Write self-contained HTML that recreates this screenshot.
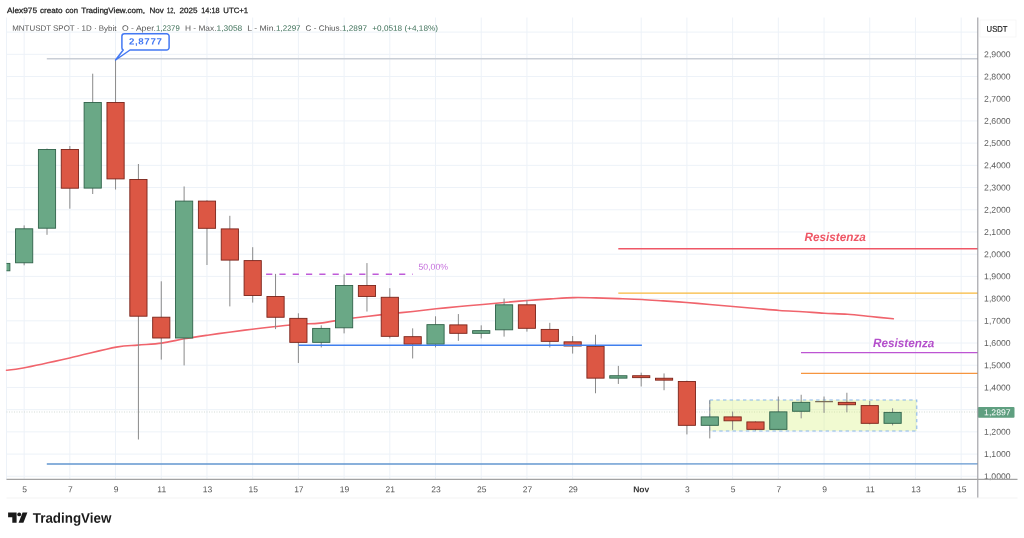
<!DOCTYPE html>
<html lang="it"><head><meta charset="utf-8"><title>MNTUSDT SPOT</title>
<style>html,body{margin:0;padding:0;background:#fff}body{width:1024px;height:538px;overflow:hidden}svg{display:block}</style></head>
<body>
<svg width="1024" height="538" viewBox="0 0 1024 538" font-family="'Liberation Sans', Arial, sans-serif">
<rect width="1024" height="538" fill="#fff"/>
<defs><clipPath id="cp"><rect x="6.5" y="17.5" width="971.5" height="462.1"/></clipPath></defs>
<g stroke="#edf2f8" stroke-width="1">
<line x1="6.5" y1="17.5" x2="6.5" y2="479.6"/>
<line x1="24.15" y1="17.5" x2="24.15" y2="479.6"/>
<line x1="69.85" y1="17.5" x2="69.85" y2="479.6"/>
<line x1="115.56" y1="17.5" x2="115.56" y2="479.6"/>
<line x1="161.27" y1="17.5" x2="161.27" y2="479.6"/>
<line x1="206.98" y1="17.5" x2="206.98" y2="479.6"/>
<line x1="252.69" y1="17.5" x2="252.69" y2="479.6"/>
<line x1="298.39" y1="17.5" x2="298.39" y2="479.6"/>
<line x1="344.10" y1="17.5" x2="344.10" y2="479.6"/>
<line x1="389.81" y1="17.5" x2="389.81" y2="479.6"/>
<line x1="435.52" y1="17.5" x2="435.52" y2="479.6"/>
<line x1="481.23" y1="17.5" x2="481.23" y2="479.6"/>
<line x1="526.93" y1="17.5" x2="526.93" y2="479.6"/>
<line x1="572.64" y1="17.5" x2="572.64" y2="479.6"/>
<line x1="641.20" y1="17.5" x2="641.20" y2="479.6"/>
<line x1="686.91" y1="17.5" x2="686.91" y2="479.6"/>
<line x1="732.62" y1="17.5" x2="732.62" y2="479.6"/>
<line x1="778.33" y1="17.5" x2="778.33" y2="479.6"/>
<line x1="824.04" y1="17.5" x2="824.04" y2="479.6"/>
<line x1="869.74" y1="17.5" x2="869.74" y2="479.6"/>
<line x1="915.45" y1="17.5" x2="915.45" y2="479.6"/>
<line x1="961.16" y1="17.5" x2="961.16" y2="479.6"/>
<line x1="6.5" y1="32.09" x2="978" y2="32.09"/>
<line x1="6.5" y1="54.30" x2="978" y2="54.30"/>
<line x1="6.5" y1="76.51" x2="978" y2="76.51"/>
<line x1="6.5" y1="98.72" x2="978" y2="98.72"/>
<line x1="6.5" y1="120.93" x2="978" y2="120.93"/>
<line x1="6.5" y1="143.14" x2="978" y2="143.14"/>
<line x1="6.5" y1="165.35" x2="978" y2="165.35"/>
<line x1="6.5" y1="187.56" x2="978" y2="187.56"/>
<line x1="6.5" y1="209.77" x2="978" y2="209.77"/>
<line x1="6.5" y1="231.98" x2="978" y2="231.98"/>
<line x1="6.5" y1="254.19" x2="978" y2="254.19"/>
<line x1="6.5" y1="276.40" x2="978" y2="276.40"/>
<line x1="6.5" y1="298.61" x2="978" y2="298.61"/>
<line x1="6.5" y1="320.82" x2="978" y2="320.82"/>
<line x1="6.5" y1="343.03" x2="978" y2="343.03"/>
<line x1="6.5" y1="365.24" x2="978" y2="365.24"/>
<line x1="6.5" y1="387.45" x2="978" y2="387.45"/>
<line x1="6.5" y1="409.66" x2="978" y2="409.66"/>
<line x1="6.5" y1="431.87" x2="978" y2="431.87"/>
<line x1="6.5" y1="454.08" x2="978" y2="454.08"/>
<line x1="6.5" y1="476.29" x2="978" y2="476.29"/>
</g>
<line x1="6.5" y1="412" x2="978" y2="412" stroke="#d3dbd6" stroke-width="1" stroke-dasharray="1 1.5"/>
<line x1="46.8" y1="58.8" x2="978" y2="58.8" stroke="#c9ced6" stroke-width="1.5"/>
<rect x="709.7" y="399.9" width="207.1" height="31" fill="#d7f17c" fill-opacity="0.35" stroke="#88b6ec" stroke-width="1.05" stroke-dasharray="3.4 3.25"/>
<path fill="none" stroke="#f0646c" stroke-width="1.6" stroke-linecap="round" d="M6.5,370.2 C9.28,369.83 12.67,370.03 23.2,368 C33.73,365.97 54.20,361.48 69.7,358 C85.20,354.52 104.85,349.25 116.2,347.1 C127.55,344.95 130.22,345.77 137.8,345.1 C145.38,344.43 153.95,344.15 161.7,343.1 C169.45,342.05 176.67,340.12 184.3,338.8 C191.93,337.48 200.03,336.30 207.5,335.2 C214.97,334.10 221.63,333.20 229.1,332.2 C236.57,331.20 244.55,330.15 252.3,329.2 C260.05,328.25 267.85,327.33 275.6,326.5 C283.35,325.67 291.40,324.77 298.8,324.2 C306.20,323.63 312.32,323.95 320,323.1 C327.68,322.25 337.15,320.20 344.9,319.1 C352.65,318.00 359.03,317.38 366.5,316.5 C373.97,315.62 381.95,314.63 389.7,313.8 C397.45,312.97 405.25,312.33 413,311.5 C420.75,310.67 428.47,309.63 436.2,308.8 C443.93,307.97 451.65,307.22 459.4,306.5 C467.15,305.78 475.22,305.17 482.7,304.5 C490.18,303.83 496.83,303.17 504.3,302.5 C511.77,301.83 519.77,301.10 527.5,300.5 C535.23,299.90 542.95,299.38 550.7,298.9 C558.45,298.42 566.52,297.77 574,297.6 C581.48,297.43 588.13,297.73 595.6,297.9 C603.07,298.07 611.07,298.33 618.8,298.6 C626.53,298.87 634.60,299.12 642,299.5 C649.40,299.88 655.78,300.40 663.2,300.9 C670.62,301.40 678.75,301.90 686.5,302.5 C694.25,303.10 701.95,303.83 709.7,304.5 C717.45,305.17 725.25,305.83 733,306.5 C740.75,307.17 748.47,307.83 756.2,308.5 C763.93,309.17 771.65,309.95 779.4,310.5 C787.15,311.05 795.22,311.35 802.7,311.8 C810.18,312.25 816.83,312.80 824.3,313.2 C831.77,313.60 839.77,313.65 847.5,314.2 C855.23,314.75 863.07,315.73 870.7,316.5 C878.33,317.27 889.53,318.42 893.3,318.8"/>
<g clip-path="url(#cp)">
<line x1="1.29" y1="263.1" x2="1.29" y2="271.1" stroke="#8a8a8a" stroke-width="1"/>
<rect x="-7.31" y="263.40" width="17.2" height="7.40" fill="#6aa886" stroke="#2f6249" stroke-width="0.9"/>
<line x1="24.15" y1="225.4" x2="24.15" y2="265.3" stroke="#8a8a8a" stroke-width="1"/>
<rect x="15.55" y="228.80" width="17.2" height="34.00" fill="#6aa886" stroke="#2f6249" stroke-width="0.9"/>
<line x1="47.00" y1="148.6" x2="47.00" y2="234.8" stroke="#8a8a8a" stroke-width="1"/>
<rect x="38.40" y="149.50" width="17.2" height="78.70" fill="#6aa886" stroke="#2f6249" stroke-width="0.9"/>
<line x1="69.85" y1="146" x2="69.85" y2="208.7" stroke="#8a8a8a" stroke-width="1"/>
<rect x="61.25" y="149.50" width="17.2" height="38.70" fill="#dc5744" stroke="#7a241a" stroke-width="0.9"/>
<line x1="92.71" y1="73.7" x2="92.71" y2="194" stroke="#8a8a8a" stroke-width="1"/>
<rect x="84.11" y="102.50" width="17.2" height="85.60" fill="#6aa886" stroke="#2f6249" stroke-width="0.9"/>
<line x1="115.56" y1="59.8" x2="115.56" y2="189.5" stroke="#8a8a8a" stroke-width="1"/>
<rect x="106.96" y="102.50" width="17.2" height="76.40" fill="#dc5744" stroke="#7a241a" stroke-width="0.9"/>
<line x1="138.42" y1="164" x2="138.42" y2="439.5" stroke="#8a8a8a" stroke-width="1"/>
<rect x="129.82" y="179.50" width="17.2" height="136.70" fill="#dc5744" stroke="#7a241a" stroke-width="0.9"/>
<line x1="161.27" y1="281.3" x2="161.27" y2="359.6" stroke="#8a8a8a" stroke-width="1"/>
<rect x="152.67" y="317.20" width="17.2" height="20.80" fill="#dc5744" stroke="#7a241a" stroke-width="0.9"/>
<line x1="184.12" y1="186.45" x2="184.12" y2="365.4" stroke="#8a8a8a" stroke-width="1"/>
<rect x="175.52" y="201.10" width="17.2" height="136.90" fill="#6aa886" stroke="#2f6249" stroke-width="0.9"/>
<line x1="206.98" y1="200.3" x2="206.98" y2="265" stroke="#8a8a8a" stroke-width="1"/>
<rect x="198.38" y="201.10" width="17.2" height="27.20" fill="#dc5744" stroke="#7a241a" stroke-width="0.9"/>
<line x1="229.83" y1="215.8" x2="229.83" y2="306.4" stroke="#8a8a8a" stroke-width="1"/>
<rect x="221.23" y="228.90" width="17.2" height="31.20" fill="#dc5744" stroke="#7a241a" stroke-width="0.9"/>
<line x1="252.69" y1="247.2" x2="252.69" y2="302.6" stroke="#8a8a8a" stroke-width="1"/>
<rect x="244.09" y="260.60" width="17.2" height="34.90" fill="#dc5744" stroke="#7a241a" stroke-width="0.9"/>
<line x1="275.54" y1="273.88" x2="275.54" y2="329.11" stroke="#8a8a8a" stroke-width="1"/>
<rect x="266.94" y="296.52" width="17.2" height="20.74" fill="#dc5744" stroke="#7a241a" stroke-width="0.9"/>
<line x1="298.39" y1="313.29" x2="298.39" y2="362.99" stroke="#8a8a8a" stroke-width="1"/>
<rect x="289.79" y="318.36" width="17.2" height="24.00" fill="#dc5744" stroke="#7a241a" stroke-width="0.9"/>
<line x1="321.25" y1="325.34" x2="321.25" y2="347.43" stroke="#8a8a8a" stroke-width="1"/>
<rect x="312.65" y="328.40" width="17.2" height="13.96" fill="#6aa886" stroke="#2f6249" stroke-width="0.9"/>
<line x1="344.10" y1="274.39" x2="344.10" y2="333.37" stroke="#8a8a8a" stroke-width="1"/>
<rect x="335.50" y="285.48" width="17.2" height="42.32" fill="#6aa886" stroke="#2f6249" stroke-width="0.9"/>
<line x1="366.96" y1="263.09" x2="366.96" y2="311.54" stroke="#8a8a8a" stroke-width="1"/>
<rect x="358.36" y="285.48" width="17.2" height="10.95" fill="#dc5744" stroke="#7a241a" stroke-width="0.9"/>
<line x1="389.81" y1="288.19" x2="389.81" y2="338.39" stroke="#8a8a8a" stroke-width="1"/>
<rect x="381.21" y="297.28" width="17.2" height="39.05" fill="#dc5744" stroke="#7a241a" stroke-width="0.9"/>
<line x1="412.66" y1="328.35" x2="412.66" y2="358.47" stroke="#8a8a8a" stroke-width="1"/>
<rect x="404.06" y="336.68" width="17.2" height="7.44" fill="#dc5744" stroke="#7a241a" stroke-width="0.9"/>
<line x1="435.52" y1="316.3" x2="435.52" y2="347.43" stroke="#8a8a8a" stroke-width="1"/>
<rect x="426.92" y="324.64" width="17.2" height="19.48" fill="#6aa886" stroke="#2f6249" stroke-width="0.9"/>
<line x1="458.37" y1="314.05" x2="458.37" y2="340.9" stroke="#8a8a8a" stroke-width="1"/>
<rect x="449.77" y="324.89" width="17.2" height="8.43" fill="#dc5744" stroke="#7a241a" stroke-width="0.9"/>
<line x1="481.23" y1="325.34" x2="481.23" y2="338.39" stroke="#8a8a8a" stroke-width="1"/>
<rect x="472.63" y="330.66" width="17.2" height="2.66" fill="#6aa886" stroke="#2f6249" stroke-width="0.9"/>
<line x1="504.08" y1="298.48" x2="504.08" y2="336.63" stroke="#8a8a8a" stroke-width="1"/>
<rect x="495.48" y="304.81" width="17.2" height="25.00" fill="#6aa886" stroke="#2f6249" stroke-width="0.9"/>
<line x1="526.93" y1="300.24" x2="526.93" y2="331.62" stroke="#8a8a8a" stroke-width="1"/>
<rect x="518.33" y="304.81" width="17.2" height="23.49" fill="#dc5744" stroke="#7a241a" stroke-width="0.9"/>
<line x1="549.79" y1="322.83" x2="549.79" y2="347.43" stroke="#8a8a8a" stroke-width="1"/>
<rect x="541.19" y="329.41" width="17.2" height="11.94" fill="#dc5744" stroke="#7a241a" stroke-width="0.9"/>
<line x1="572.64" y1="336.02" x2="572.64" y2="353.59" stroke="#8a8a8a" stroke-width="1"/>
<rect x="564.04" y="341.85" width="17.2" height="4.16" fill="#dc5744" stroke="#7a241a" stroke-width="0.9"/>
<line x1="595.50" y1="334.77" x2="595.50" y2="393.25" stroke="#8a8a8a" stroke-width="1"/>
<rect x="586.90" y="346.36" width="17.2" height="31.78" fill="#dc5744" stroke="#7a241a" stroke-width="0.9"/>
<line x1="618.35" y1="365.89" x2="618.35" y2="383.96" stroke="#8a8a8a" stroke-width="1"/>
<rect x="609.75" y="375.73" width="17.2" height="2.41" fill="#6aa886" stroke="#2f6249" stroke-width="0.9"/>
<line x1="641.20" y1="372.67" x2="641.20" y2="386.48" stroke="#8a8a8a" stroke-width="1"/>
<rect x="632.60" y="375.73" width="17.2" height="1.91" fill="#dc5744" stroke="#7a241a" stroke-width="0.9"/>
<line x1="664.06" y1="373.42" x2="664.06" y2="390.24" stroke="#8a8a8a" stroke-width="1"/>
<rect x="655.46" y="378.24" width="17.2" height="1.91" fill="#dc5744" stroke="#7a241a" stroke-width="0.9"/>
<line x1="686.91" y1="380.7" x2="686.91" y2="434.42" stroke="#8a8a8a" stroke-width="1"/>
<rect x="678.31" y="381.50" width="17.2" height="43.83" fill="#dc5744" stroke="#7a241a" stroke-width="0.9"/>
<line x1="709.77" y1="400.28" x2="709.77" y2="438.43" stroke="#8a8a8a" stroke-width="1"/>
<rect x="701.17" y="416.90" width="17.2" height="8.43" fill="#6aa886" stroke="#2f6249" stroke-width="0.9"/>
<line x1="732.62" y1="411.57" x2="732.62" y2="429.9" stroke="#8a8a8a" stroke-width="1"/>
<rect x="724.02" y="416.90" width="17.2" height="3.91" fill="#dc5744" stroke="#7a241a" stroke-width="0.9"/>
<line x1="755.47" y1="421.36" x2="755.47" y2="430.4" stroke="#8a8a8a" stroke-width="1"/>
<rect x="746.87" y="421.92" width="17.2" height="7.43" fill="#dc5744" stroke="#7a241a" stroke-width="0.9"/>
<line x1="778.33" y1="396.51" x2="778.33" y2="429.9" stroke="#8a8a8a" stroke-width="1"/>
<rect x="769.73" y="411.87" width="17.2" height="17.48" fill="#6aa886" stroke="#2f6249" stroke-width="0.9"/>
<line x1="801.18" y1="394.76" x2="801.18" y2="418.35" stroke="#8a8a8a" stroke-width="1"/>
<rect x="792.58" y="402.34" width="17.2" height="8.93" fill="#6aa886" stroke="#2f6249" stroke-width="0.9"/>
<line x1="824.04" y1="396.51" x2="824.04" y2="412.83" stroke="#8a8a8a" stroke-width="1"/>
<line x1="815.14" y1="401.65999999999997" x2="832.94" y2="401.65999999999997" stroke="#7b6e58" stroke-width="1.1"/>
<line x1="846.89" y1="392.75" x2="846.89" y2="412.33" stroke="#8a8a8a" stroke-width="1"/>
<rect x="838.29" y="402.34" width="17.2" height="2.41" fill="#dc5744" stroke="#7a241a" stroke-width="0.9"/>
<line x1="869.74" y1="401.03" x2="869.74" y2="424.38" stroke="#8a8a8a" stroke-width="1"/>
<rect x="861.14" y="405.60" width="17.2" height="17.72" fill="#dc5744" stroke="#7a241a" stroke-width="0.9"/>
<line x1="892.60" y1="408.31" x2="892.60" y2="425.38" stroke="#8a8a8a" stroke-width="1"/>
<rect x="884.00" y="412.38" width="17.2" height="10.94" fill="#6aa886" stroke="#2f6249" stroke-width="0.9"/>
</g>
<line x1="298.7" y1="345.2" x2="641.9" y2="345.2" stroke="#3f7fee" stroke-width="1.6"/>
<line x1="46.8" y1="464" x2="978" y2="463.9" stroke="#6296cf" stroke-width="1.35"/>
<line x1="618.3" y1="248.7" x2="978" y2="248.7" stroke="#ef5766" stroke-width="1.4"/>
<line x1="618.3" y1="293.15" x2="978" y2="293.15" stroke="#f8b93c" stroke-width="1.4"/>
<line x1="801" y1="352.6" x2="978" y2="352.6" stroke="#bd55d3" stroke-width="1.4"/>
<line x1="801" y1="373.4" x2="978" y2="373.4" stroke="#f6953f" stroke-width="1.2"/>
<line x1="266.1" y1="274.2" x2="413" y2="274.2" stroke="#bf5bd8" stroke-width="1.5" stroke-dasharray="6.2 7.1"/>
<text transform="rotate(0.05 418.5 269.7)" x="418.5" y="269.7" font-size="8.6" fill="#c56fdc" textLength="29.5" lengthAdjust="spacingAndGlyphs">50,00%</text>
<text transform="rotate(0.05 804.4 240.9)" x="804.4" y="240.9" font-size="12" font-weight="bold" font-style="italic" fill="#ef5766" textLength="61.5" lengthAdjust="spacingAndGlyphs">Resistenza</text>
<text transform="rotate(0.05 872.9 347.1)" x="872.9" y="347.1" font-size="12" font-weight="bold" font-style="italic" fill="#b44fcb" textLength="61.5" lengthAdjust="spacingAndGlyphs">Resistenza</text>
<path d="M124.6,33.8 H166.6 a2.5,2.5 0 0 1 2.5,2.5 V47.5 a2.5,2.5 0 0 1 -2.5,2.5 H130 L115.6,60 L123.2,50 a2.5,2.5 0 0 1 -1.3,-2.5 V36.3 a2.5,2.5 0 0 1 2.5,-2.5 Z" fill="#fff" stroke="#4378f3" stroke-width="1.5" stroke-linejoin="round"/>
<text transform="rotate(0.05 128.9 44.5)" x="128.9" y="44.5" font-size="9.1" font-weight="bold" fill="#4378f3" textLength="33.6" lengthAdjust="spacingAndGlyphs" letter-spacing="0.6">2,8777</text>
<g font-size="8.5" fill="#5c5c5c">
<text transform="rotate(0.05 984.1 57.25)" x="984.1" y="57.25" textLength="26.5" lengthAdjust="spacingAndGlyphs">2,9000</text>
<text transform="rotate(0.05 984.1 79.46)" x="984.1" y="79.46" textLength="26.5" lengthAdjust="spacingAndGlyphs">2,8000</text>
<text transform="rotate(0.05 984.1 101.67)" x="984.1" y="101.67" textLength="26.5" lengthAdjust="spacingAndGlyphs">2,7000</text>
<text transform="rotate(0.05 984.1 123.88)" x="984.1" y="123.88" textLength="26.5" lengthAdjust="spacingAndGlyphs">2,6000</text>
<text transform="rotate(0.05 984.1 146.09)" x="984.1" y="146.09" textLength="26.5" lengthAdjust="spacingAndGlyphs">2,5000</text>
<text transform="rotate(0.05 984.1 168.30)" x="984.1" y="168.30" textLength="26.5" lengthAdjust="spacingAndGlyphs">2,4000</text>
<text transform="rotate(0.05 984.1 190.51)" x="984.1" y="190.51" textLength="26.5" lengthAdjust="spacingAndGlyphs">2,3000</text>
<text transform="rotate(0.05 984.1 212.72)" x="984.1" y="212.72" textLength="26.5" lengthAdjust="spacingAndGlyphs">2,2000</text>
<text transform="rotate(0.05 984.1 234.93)" x="984.1" y="234.93" textLength="26.5" lengthAdjust="spacingAndGlyphs">2,1000</text>
<text transform="rotate(0.05 984.1 257.14)" x="984.1" y="257.14" textLength="26.5" lengthAdjust="spacingAndGlyphs">2,0000</text>
<text transform="rotate(0.05 984.1 279.35)" x="984.1" y="279.35" textLength="26.5" lengthAdjust="spacingAndGlyphs">1,9000</text>
<text transform="rotate(0.05 984.1 301.56)" x="984.1" y="301.56" textLength="26.5" lengthAdjust="spacingAndGlyphs">1,8000</text>
<text transform="rotate(0.05 984.1 323.77)" x="984.1" y="323.77" textLength="26.5" lengthAdjust="spacingAndGlyphs">1,7000</text>
<text transform="rotate(0.05 984.1 345.98)" x="984.1" y="345.98" textLength="26.5" lengthAdjust="spacingAndGlyphs">1,6000</text>
<text transform="rotate(0.05 984.1 368.19)" x="984.1" y="368.19" textLength="26.5" lengthAdjust="spacingAndGlyphs">1,5000</text>
<text transform="rotate(0.05 984.1 390.40)" x="984.1" y="390.40" textLength="26.5" lengthAdjust="spacingAndGlyphs">1,4000</text>
<text transform="rotate(0.05 984.1 434.82)" x="984.1" y="434.82" textLength="26.5" lengthAdjust="spacingAndGlyphs">1,2000</text>
<text transform="rotate(0.05 984.1 457.03)" x="984.1" y="457.03" textLength="26.5" lengthAdjust="spacingAndGlyphs">1,1000</text>
<text transform="rotate(0.05 984.1 479.24)" x="984.1" y="479.24" textLength="26.5" lengthAdjust="spacingAndGlyphs">1,0000</text>
</g>
<rect x="980" y="20" width="36" height="17" fill="#fff" stroke="#f4f4f4" stroke-width="0.8"/>
<text transform="rotate(0.05 986.6 31.8)" x="986.6" y="31.8" font-size="8.3" fill="#222" stroke="#222" stroke-width="0.2" textLength="20.9" lengthAdjust="spacingAndGlyphs">USDT</text>
<rect x="977.8" y="406.9" width="36.7" height="10.9" rx="1" fill="#5f9f80"/>
<text transform="rotate(0.05 984.1 415.3)" x="984.1" y="415.3" font-size="8.5" fill="#fff" textLength="26.5" lengthAdjust="spacingAndGlyphs">1,2897</text>
<line x1="977.8" y1="17.5" x2="977.8" y2="498" stroke="#98989e" stroke-width="1.05"/>
<line x1="6.5" y1="479.4" x2="1017.5" y2="479.4" stroke="#a3a3a3" stroke-width="1.3"/>
<line x1="6.5" y1="498" x2="1017.5" y2="498" stroke="#f3f3f3" stroke-width="1"/>
<g font-size="8.5" fill="#555" text-anchor="middle">
<text transform="rotate(0.05 24.65 492.3)" x="24.65" y="492.3">5</text>
<text transform="rotate(0.05 70.35 492.3)" x="70.35" y="492.3">7</text>
<text transform="rotate(0.05 116.06 492.3)" x="116.06" y="492.3">9</text>
<text transform="rotate(0.05 161.77 492.3)" x="161.77" y="492.3">11</text>
<text transform="rotate(0.05 207.48 492.3)" x="207.48" y="492.3">13</text>
<text transform="rotate(0.05 253.19 492.3)" x="253.19" y="492.3">15</text>
<text transform="rotate(0.05 298.89 492.3)" x="298.89" y="492.3">17</text>
<text transform="rotate(0.05 344.60 492.3)" x="344.60" y="492.3">19</text>
<text transform="rotate(0.05 390.31 492.3)" x="390.31" y="492.3">21</text>
<text transform="rotate(0.05 436.02 492.3)" x="436.02" y="492.3">23</text>
<text transform="rotate(0.05 481.73 492.3)" x="481.73" y="492.3">25</text>
<text transform="rotate(0.05 527.43 492.3)" x="527.43" y="492.3">27</text>
<text transform="rotate(0.05 573.14 492.3)" x="573.14" y="492.3">29</text>
<text transform="rotate(0.05 687.41 492.3)" x="687.41" y="492.3">3</text>
<text transform="rotate(0.05 733.12 492.3)" x="733.12" y="492.3">5</text>
<text transform="rotate(0.05 778.83 492.3)" x="778.83" y="492.3">7</text>
<text transform="rotate(0.05 824.54 492.3)" x="824.54" y="492.3">9</text>
<text transform="rotate(0.05 870.24 492.3)" x="870.24" y="492.3">11</text>
<text transform="rotate(0.05 915.95 492.3)" x="915.95" y="492.3">13</text>
<text transform="rotate(0.05 961.66 492.3)" x="961.66" y="492.3">15</text>
<text transform="rotate(0.05 641.20 492.3)" x="641.20" y="492.3" font-weight="bold" fill="#333">Nov</text>
</g>
<g font-size="7.7" fill="#1c1c1c" stroke="#1c1c1c" stroke-width="0.25">
<text transform="rotate(0.05 7 13)" x="7" y="13" textLength="30.0" lengthAdjust="spacingAndGlyphs">Alex975</text>
<text transform="rotate(0.05 40 13)" x="40" y="13" textLength="22.5" lengthAdjust="spacingAndGlyphs">creato</text>
<text transform="rotate(0.05 65.5 13)" x="65.5" y="13" textLength="12.5" lengthAdjust="spacingAndGlyphs">con</text>
<text transform="rotate(0.05 81.3 13)" x="81.3" y="13" textLength="63.7" lengthAdjust="spacingAndGlyphs">TradingView.com,</text>
<text transform="rotate(0.05 149.5 13)" x="149.5" y="13" textLength="14.3" lengthAdjust="spacingAndGlyphs">Nov</text>
<text transform="rotate(0.05 167 13)" x="167" y="13" textLength="8.0" lengthAdjust="spacingAndGlyphs">12,</text>
<text transform="rotate(0.05 179.5 13)" x="179.5" y="13" textLength="18.0" lengthAdjust="spacingAndGlyphs">2025</text>
<text transform="rotate(0.05 201.3 13)" x="201.3" y="13" textLength="18.2" lengthAdjust="spacingAndGlyphs">14:18</text>
<text transform="rotate(0.05 223.3 13)" x="223.3" y="13" textLength="24.9" lengthAdjust="spacingAndGlyphs">UTC+1</text>
</g>
<g font-size="7.8" fill="#555">
<text transform="rotate(0.05 12.2 30.8)" x="12.2" y="30.8" textLength="104.3" lengthAdjust="spacingAndGlyphs">MNTUSDT SPOT · 1D · Bybit</text>
<text transform="rotate(0.05 122 30.8)" x="122" y="30.8" textLength="34.0" lengthAdjust="spacingAndGlyphs">O - Aper.</text>
<text transform="rotate(0.05 156 30.8)" x="156" y="30.8" fill="#3c6f57" textLength="23.7" lengthAdjust="spacingAndGlyphs">1,2379</text>
<text transform="rotate(0.05 185 30.8)" x="185" y="30.8" textLength="31.5" lengthAdjust="spacingAndGlyphs">H - Max.</text>
<text transform="rotate(0.05 216.5 30.8)" x="216.5" y="30.8" fill="#3c6f57" textLength="25.8" lengthAdjust="spacingAndGlyphs">1,3058</text>
<text transform="rotate(0.05 247.3 30.8)" x="247.3" y="30.8" textLength="28.7" lengthAdjust="spacingAndGlyphs">L - Min.</text>
<text transform="rotate(0.05 276 30.8)" x="276" y="30.8" fill="#3c6f57" textLength="24.6" lengthAdjust="spacingAndGlyphs">1,2297</text>
<text transform="rotate(0.05 305.6 30.8)" x="305.6" y="30.8" textLength="36.4" lengthAdjust="spacingAndGlyphs">C - Chius.</text>
<text transform="rotate(0.05 342 30.8)" x="342" y="30.8" fill="#3c6f57" textLength="25.0" lengthAdjust="spacingAndGlyphs">1,2897</text>
<text transform="rotate(0.05 372.3 30.8)" x="372.3" y="30.8" fill="#3c6f57" textLength="65.7" lengthAdjust="spacingAndGlyphs">+0,0518 (+4,18%)</text>
</g>
<g fill="#1a1a1a">
<path d="M8.1,512.5 h8.5 v10.2 h-4.3 v-5.4 h-4.2 z"/>
<circle cx="19.2" cy="514.4" r="1.95"/>
<path d="M22.6,512.5 h4.8 l-4,10.2 h-4.8 z"/>
</g>
<text transform="rotate(0.05 32.8 522.7)" x="32.8" y="522.7" font-size="14" font-weight="bold" fill="#1a1a1a" textLength="78.5" lengthAdjust="spacingAndGlyphs">TradingView</text>
</svg>
</body></html>
